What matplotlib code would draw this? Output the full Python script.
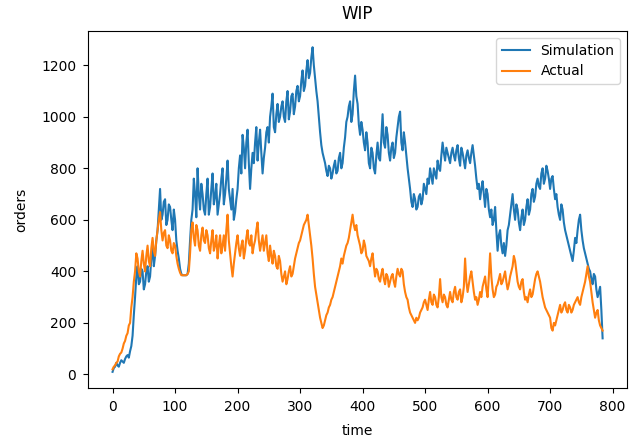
import numpy as np
import matplotlib.pyplot as plt

# WIP orders, sampled every 2 time units
step = 2

simulation = [
    10, 25, 30, 45, 35, 30, 45, 55, 50, 45, 60, 70, 75, 65, 90, 110, 150, 230, 300, 380, 420, 350, 360, 410, 400,
    330, 350, 400, 420, 360, 380, 450, 500, 420, 460, 520, 560, 640, 720, 600, 620, 670, 680, 580, 600, 660, 650, 600, 560, 640,
    600, 520, 480, 450, 410, 390, 385, 385, 385, 385, 390, 430, 520, 600, 640, 760, 700, 610, 800, 700, 640, 740, 700, 640, 620,
    700, 760, 620, 650, 720, 780, 660, 690, 740, 620, 660, 700, 760, 800, 660, 700, 760, 830, 720, 680, 640, 720, 600, 630, 680,
    720, 800, 850, 780, 930, 880, 800, 900, 950, 820, 720, 800, 860, 820, 900, 960, 830, 900, 950, 860, 780, 840, 880, 940, 960,
    900, 1000, 1040, 1090, 960, 940, 1010, 1050, 980, 1000, 1040, 1060, 1000, 980, 1060, 1100, 990, 1020, 1080, 1090, 1010, 1040, 1100, 1120, 1060,
    1080, 1140, 1180, 1100, 1120, 1180, 1220, 1150, 1170, 1230, 1270, 1200, 1150, 1100, 1060, 1000, 940, 890, 860, 840, 820, 790, 770, 810, 800,
    760, 780, 810, 830, 780, 790, 840, 860, 800, 820, 880, 920, 980, 1000, 1040, 1060, 980, 1010, 1100, 1160, 1080, 1050, 970, 930, 980,
    950, 900, 870, 940, 900, 820, 800, 880, 860, 800, 780, 850, 900, 840, 830, 920, 1010, 900, 880, 960, 930, 860, 830, 880, 900,
    840, 860, 920, 960, 1000, 1020, 900, 870, 940, 900, 850, 800, 760, 720, 670, 650, 700, 680, 640, 650, 690, 700, 660, 680, 740,
    720, 700, 760, 740, 800, 770, 740, 800, 780, 760, 830, 800, 790, 850, 900, 860, 830, 880, 860, 840, 820, 860, 880, 850, 830,
    870, 890, 840, 810, 880, 860, 830, 800, 850, 870, 840, 820, 860, 890, 850, 810, 760, 720, 740, 680, 720, 750, 700, 650, 720,
    700, 640, 610, 640, 580, 600, 650, 560, 480, 540, 560, 500, 470, 510, 460, 500, 560, 580, 620, 660, 700, 640, 600, 660, 640,
    590, 560, 610, 640, 580, 600, 650, 680, 620, 640, 700, 720, 670, 690, 740, 760, 730, 720, 780, 800, 740, 760, 810, 790, 760,
    720, 760, 770, 720, 680, 700, 650, 620, 600, 660, 640, 590, 560, 540, 520, 500, 480, 460, 440, 480, 530,
    510, 560, 600, 620, 560, 520, 490, 470, 450, 430, 410, 400, 370, 350, 390, 380, 330, 300, 320, 340, 250, 140,
]

actual = [
    20, 30, 35, 45, 50, 70, 80, 85, 100, 120, 130, 150, 160, 190, 200, 260, 300, 360, 400, 470, 450, 400, 380, 440, 480,
    430, 400, 460, 500, 440, 420, 490, 530, 480, 460, 520, 560, 600, 630, 560, 520, 550, 560, 500, 490, 540, 520, 480, 470, 510,
    500, 460, 430, 410, 395, 385, 385, 385, 385, 385, 390, 400, 470, 560, 590, 530, 500, 580, 560, 500, 480, 540, 570, 520, 510,
    560, 540, 490, 470, 520, 560, 480, 500, 540, 450, 500, 540, 470, 500, 540, 480, 560, 620, 520, 470, 420, 380, 430, 470, 510,
    540, 490, 460, 500, 520, 450, 480, 530, 560, 510, 500, 540, 470, 500, 520, 560, 590, 520, 480, 510, 540, 480, 510, 540, 470,
    440, 500, 460, 430, 480, 460, 420, 410, 460, 440, 390, 360, 380, 400, 350, 370, 400, 420, 380, 390, 420, 450, 470, 490, 510,
    520, 540, 560, 580, 590, 600, 620, 580, 540, 500, 450, 390, 340, 310, 280, 250, 220, 200, 180, 190, 210, 230, 240, 260, 270,
    290, 300, 320, 340, 360, 380, 400, 420, 450, 430, 460, 480, 500, 510, 530, 560, 590, 620, 580, 560, 580, 540, 520, 500, 470,
    480, 520, 500, 460, 450, 440, 420, 450, 470, 420, 380, 410, 400, 370, 360, 390, 410, 370, 350, 390, 380, 340, 360, 380, 390,
    360, 340, 380, 410, 390, 380, 410, 400, 350, 320, 300, 290, 260, 240, 230, 220, 210, 200, 220, 210, 220, 240, 250, 260, 280,
    290, 270, 250, 290, 320, 280, 270, 310, 300, 270, 260, 300, 370, 300, 280, 310, 300, 270, 260, 290, 320, 290, 280, 320, 340,
    300, 290, 320, 330, 280, 300, 340, 450, 360, 320, 350, 380, 400, 360, 320, 290, 300, 270, 290, 320, 300, 340, 360, 380, 330,
    300, 380, 470, 380, 330, 300, 310, 340, 350, 370, 390, 350, 360, 380, 400, 360, 330, 350, 380, 400, 420, 460, 440, 400, 360,
    340, 330, 360, 370, 320, 290, 300, 280, 310, 330, 300, 310, 340, 370, 390, 400, 380, 360, 330, 300, 280, 260, 250, 240, 230,
    220, 180, 170, 200, 190, 210, 230, 250, 270, 240, 250, 270, 280, 250, 240, 270, 260, 240, 250, 270, 280,
    290, 300, 280, 270, 300, 320, 340, 360, 390, 420, 380, 360, 320, 280, 250, 220, 240, 250, 210, 190, 180, 170,
]

t_sim = np.arange(len(simulation)) * step
t_act = np.arange(len(actual)) * step

fig = plt.figure(figsize=(6.29, 4.43), dpi=100)
ax = fig.add_axes([0.140, 0.124, 0.857, 0.806])
ax.plot(t_sim, simulation, label='Simulation')
ax.plot(t_act, actual, label='Actual')
ax.set_title('WIP', pad=9)
ax.set_xlabel('time', labelpad=7)
ax.set_ylabel('orders', labelpad=9)
ax.set_xticks(range(0, 900, 100))
ax.tick_params(pad=5)
ax.legend(loc='upper right')

fig.savefig('out.png', dpi=100)
